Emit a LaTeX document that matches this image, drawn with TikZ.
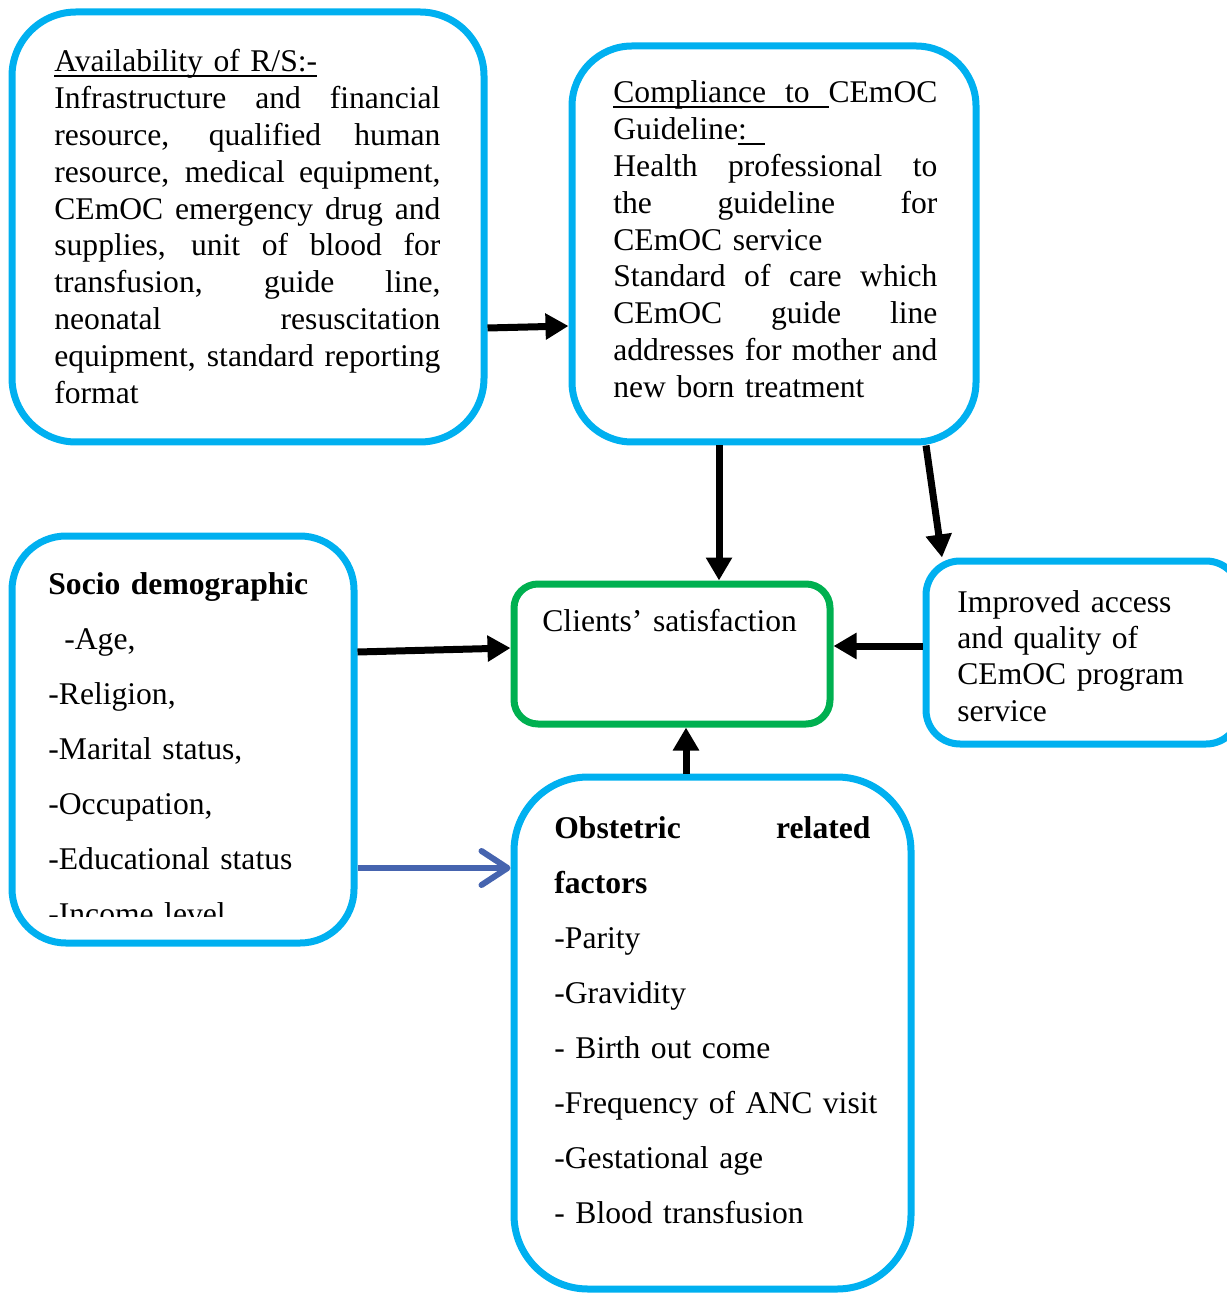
\documentclass[tikz,border=0pt]{standalone}
\usepackage{fontspec}
\setmainfont{Liberation Serif}
\usetikzlibrary{arrows,arrows.meta}
\usetikzlibrary{calc,positioning}
\definecolor{boxblue}{RGB}{0,176,240}
\definecolor{boxgreen}{RGB}{0,176,80}
\definecolor{arrowblue}{RGB}{70,100,175}
\tikzset{>=latex}
% one justified line of a box
\newcommand{\jline}[2][\hsize]{\leavevmode\hbox to #1{\spaceskip=0.25em plus 1fil\relax #2}}
% underlined word, and an underlined stretchable space
\newsavebox{\ulsave}
\newcommand{\ulbox}[1]{\sbox{\ulsave}{#1}\rlap{\rule[-2.4pt]{\wd\ulsave}{0.9pt}}\usebox{\ulsave}}
\newcommand{\ulsp}{\leaders\hrule height -1.5pt depth 2.4pt\hskip 4pt plus 1fil\relax}
\tikzstyle{bluebox} = [draw=boxblue, line width=3.5pt]
\tikzstyle{greenbox} = [draw=boxgreen, line width=3.5pt, rounded corners=12pt]
\tikzstyle{boxtext} = [inner sep=0pt, align=left, anchor=base west,
                       font=\fontsize{15.8}{18.4}\selectfont]
\tikzstyle{listtext} = [inner sep=0pt, align=left, anchor=base west,
                        font=\fontsize{15.8}{27.5}\selectfont]
\tikzstyle{link} = [line width=3.5pt, -{Triangle[length=11.5pt,width=12.5pt]}]
\tikzstyle{bluelink} = [line width=3pt, color=arrowblue,
                        -{Straight Barb[length=13pt,width=17pt,round]}]

\begin{document}
\begin{tikzpicture}[x=0.5pt,y=-0.5pt]
    % page size, in pixels of the reference
    \useasboundingbox (0,0) rectangle (1226,1293);

    % the boxes
    \node[bluebox, rounded corners=32pt, minimum width=236pt, minimum height=215pt]
        (avail) at (248,227) {};
    \node[bluebox, rounded corners=30pt, minimum width=202pt, minimum height=198pt]
        (comply) at (774,244) {};
    \node[bluebox, rounded corners=27pt, minimum width=171pt, minimum height=203.5pt]
        (socio) at (183,739.5) {};
    \node[greenbox, minimum width=158pt, minimum height=70pt]
        (clients) at (672,654) {};
    \node[bluebox, rounded corners=17pt, minimum width=157pt, minimum height=91.5pt]
        (improved) at (1083,652.5) {};
    \node[bluebox, rounded corners=37pt, minimum width=198.5pt, minimum height=256pt]
        (obst) at (712.5,1033) {};

    % texts of the boxes
    \node[boxtext, text width=193pt] (availtxt) at (54,72) {%
        \ulbox{Availability of R/S:-}\\
        \jline{Infrastructure and financial}\\
        \jline{resource, qualified human}\\
        \jline{resource, medical equipment,}\\
        \jline{CEmOC emergency drug and}\\
        \jline{supplies, unit of blood for}\\
        \jline{transfusion, guide line,}\\
        \jline{neonatal resuscitation}\\
        \jline{equipment, standard reporting}\\
        format};
    \node[boxtext, text width=162pt] (complytxt) at (613,103) {%
        \leavevmode\hbox to\hsize{\ulbox{Compliance}\ulsp\ulbox{to}\ulsp CEmOC}\\
        Guideline\ulbox{:\hspace{9pt}}\\
        \jline{Health professional to}\\
        \jline{the guideline for}\\
        CEmOC service\\
        \jline{Standard of care which}\\
        \jline{CEmOC guide line}\\
        \jline{addresses for mother and}\\
        new born treatment};
    \begin{scope}
        \clip (12,536) rectangle (354,916);
        \node[listtext, text width=150pt] (sociotxt) at (48,594) {%
            \textbf{Socio demographic}\\
            \hspace*{8pt}-Age,\\
            -Religion,\\
            -Marital status,\\
            -Occupation,\\
            -Educational status\\
            -Income level};
    \end{scope}
    \node[boxtext, text width=140pt] (clientstxt) at (542,631) {Clients' satisfaction};
    \node[boxtext, text width=126pt, font=\fontsize{15.8}{18.2}\selectfont]
        (improvedtxt) at (957,612) {%
        Improved access\\
        and quality of\\
        CEmOC program\\
        service};
    \node[listtext, text width=175pt] (obsttxt) at (554,838) {%
        \jline[158pt]{\textbf{Obstetric related}}\\
        \textbf{factors}\\
        -Parity\\
        -Gravidity\\
        - Birth out come\\
        -Frequency of ANC visit\\
        -Gestational age\\
        - Blood transfusion};

    % arrows
    \draw[link] ([yshift=-50.5pt]avail.east) -- ([yshift=-41pt]comply.west);
    \draw[link] ([xshift=-27.5pt]comply.south) -- ([xshift=23.5pt]clients.north);
    \draw[link] ([xshift=76pt]comply.south) -- ([xshift=-70.5pt]improved.north);
    \draw[link] ([yshift=43.75pt]socio.east) -- ([yshift=3pt]clients.west);
    \draw[link] ([yshift=3.25pt]improved.west) -- ([yshift=4pt]clients.east);
    \draw[link] ([xshift=-13.25pt]obst.north) -- ([xshift=7pt]clients.south);
    \draw[bluelink] ([yshift=-64.25pt]socio.east) -- ([yshift=82.5pt]obst.west);
\end{tikzpicture}
\end{document}
